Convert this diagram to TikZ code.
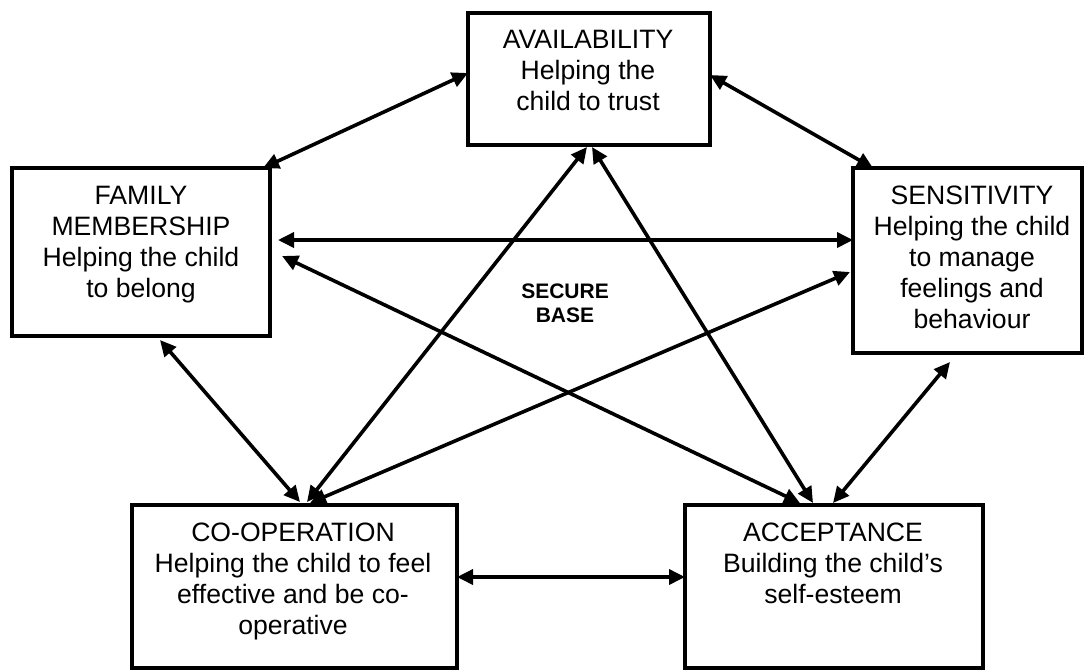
\documentclass[tikz,border=0pt]{standalone}
\usepackage{fontspec}
\setmainfont{Liberation Sans}
\usetikzlibrary{arrows.meta,calc}
\begin{document}
\begin{tikzpicture}[x=0.5pt,y=-0.5pt,
  box/.style={draw,line width=2pt,inner sep=0pt,outer sep=0pt},
  lbl/.style={align=center,inner sep=0pt,anchor=north,font=\fontsize{13.3}{15.4}\selectfont},
  conn/.style={line width=1.8pt,{Triangle[length=8pt,width=7.5pt]}-{Triangle[length=8pt,width=7.5pt]}}]
\fill[white] (0,0) rectangle (1085,670);
\useasboundingbox (0,0) rectangle (1085,670);
% boxes
\node[box,minimum width=121pt,minimum height=66pt] (avail) at (589,79) {};
\node[box,minimum width=129pt,minimum height=84pt] (fam) at (141,252) {};
\node[box,minimum width=114.5pt,minimum height=92.5pt] (sens) at (967.5,260.5) {};
\node[box,minimum width=162.5pt,minimum height=81.5pt] (coop) at (294.5,586.5) {};
\node[box,minimum width=149pt,minimum height=81.5pt] (acc) at (834,586.5) {};
% texts
\node[lbl] (availt) at (588,30) {AVAILABILITY\\Helping the\\child to trust};
\node[lbl] (famt) at (141,186) {FAMILY\\MEMBERSHIP\\Helping the child\\to belong};
\node[lbl] (senst) at (972,186) {SENSITIVITY\\Helping the child\\to manage\\feelings and\\behaviour};
\node[lbl] (coopt) at (293,523) {CO-OPERATION\\Helping the child to feel\\effective and be co-\\operative};
\node[lbl] (acct) at (833,523) {ACCEPTANCE\\Building the child’s\\self-esteem};
\node[align=center,inner sep=0pt,font=\bfseries\fontsize{10.5}{12}\selectfont] (sb) at (565,303) {SECURE\\BASE};
% connectors
\draw[conn] ($(avail.north west)+(0,60)$) -- ($(fam.north west)+(251,0)$);
\draw[conn] ($(avail.north east)+(0,62)$) -- ($(sens.north west)+(20,0)$);
\draw[conn] ($(fam.north east)+(8,72)$) -- ($(sens.north west)+(0,72)$);
\draw[conn] ($(fam.north east)+(12,88)$) -- ($(acc.north west)+(115,-2)$);
\draw[conn] ($(fam.south west)+(148,4)$) -- ($(coop.north west)+(168,-3)$);
\draw[conn] ($(avail.south west)+(119,2)$) -- ($(coop.north west)+(175,-3)$);
\draw[conn] ($(avail.south west)+(124,2)$) -- ($(acc.north west)+(128,-2)$);
\draw[conn] ($(sens.north west)+(-3,104)$) -- ($(coop.north west)+(178,-2)$);
\draw[conn] ($(sens.south west)+(97,9)$) -- ($(acc.north west)+(148,-2)$);
\draw[conn] ($(coop.north east)+(0,72)$) -- ($(acc.north west)+(0,72)$);
\end{tikzpicture}
\end{document}
